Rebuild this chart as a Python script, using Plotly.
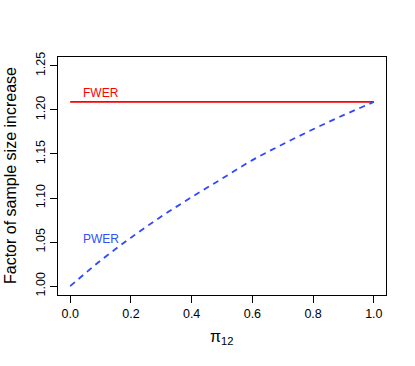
import plotly.graph_objects as go

pi12 = [0.0, 0.1, 0.2, 0.3, 0.4, 0.5, 0.6, 0.7, 0.8, 0.9, 1.0]
pwer = [1.000, 1.029, 1.055, 1.079, 1.101, 1.122, 1.143, 1.161, 1.178, 1.194, 1.209]
fwer = [1.209] * len(pi12)
x_ticks = [0.0, 0.2, 0.4, 0.6, 0.8, 1.0]
x_ticklabels = ["0.0", "0.2", "0.4", "0.6", "0.8", "1.0"]
y_ticks = [1.00, 1.05, 1.10, 1.15, 1.20, 1.25]
y_ticklabels = ["1.00", "1.05", "1.10", "1.15", "1.20", "1.25"]

FONT = "Liberation Sans, Arial, sans-serif"
fig = go.Figure()
fig.add_trace(go.Scatter(x=pi12, y=fwer, mode="lines",
                         line=dict(color="#FF0000", width=1.7), showlegend=False))
fig.add_trace(go.Scatter(x=pi12, y=pwer, mode="lines",
                         line=dict(color="#2D48FF", width=1.8, dash="6px,5px", shape="spline"),
                         showlegend=False))

fig.add_annotation(x=0.1, y=1.219, text="FWER", showarrow=False,
                   font=dict(family=FONT, size=12, color="#FF0000"))
fig.add_annotation(x=0.1, y=1.054, text="PWER", showarrow=False,
                   font=dict(family=FONT, size=12, color="#3050FF"))
fig.add_annotation(xref="paper", yref="paper", x=0, y=0.5, xshift=-48,
                   text="Factor of sample size increase", textangle=-90, showarrow=False,
                   xanchor="center", yanchor="middle",
                   font=dict(family=FONT, size=16, color="black"))
fig.add_annotation(xref="paper", yref="paper", x=0.5, y=0, yshift=-42,
                   text="π<sub>12</sub>", showarrow=False,
                   xanchor="center", yanchor="middle",
                   font=dict(family=FONT, size=16, color="black"))

fig.update_layout(
    width=415, height=366,
    margin=dict(l=58, r=29, t=57, b=71),
    paper_bgcolor="white", plot_bgcolor="white",
    font=dict(family=FONT, size=12, color="black"),
    xaxis=dict(range=[-0.04, 1.04], tickvals=x_ticks, ticktext=x_ticklabels,
               automargin=False, tickfont=dict(size=12.5),
               showgrid=False, zeroline=False, showline=True, mirror=True,
               linecolor="black", linewidth=1, ticks="outside", ticklen=7,
               tickcolor="black"),
    yaxis=dict(range=[0.99, 1.26], tickvals=y_ticks, ticktext=y_ticklabels,
               tickangle=-90, automargin=False, tickfont=dict(size=12.5),
               showgrid=False, zeroline=False, showline=True, mirror=True,
               linecolor="black", linewidth=1, ticks="outside", ticklen=7,
               tickcolor="black"),
)
fig.write_html("out.html", config={"displayModeBar": False},
               post_script="document.body.style.margin='0';document.body.style.overflow='hidden';")
